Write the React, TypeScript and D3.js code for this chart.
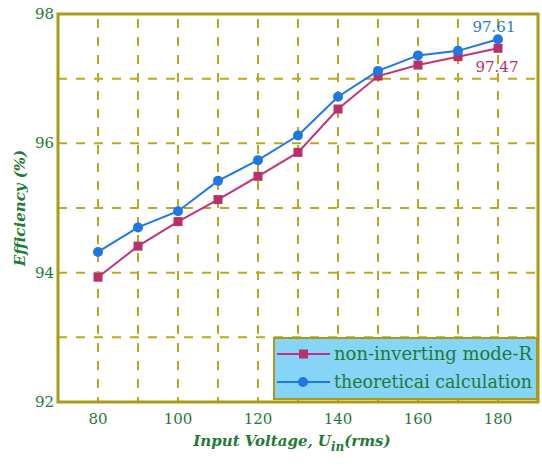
import React, { useEffect, useRef } from 'react';
import * as d3 from 'd3';

const voltages = [80, 90, 100, 110, 120, 130, 140, 150, 160, 170, 180];
const measured = [93.93, 94.41, 94.79, 95.13, 95.49, 95.86, 96.53, 97.04, 97.21, 97.34, 97.47];
const theoretical = [94.32, 94.70, 94.95, 95.42, 95.74, 96.12, 96.72, 97.12, 97.36, 97.43, 97.61];
const xTicks = [80, 100, 120, 140, 160, 180];
const yTicks = [92, 94, 96, 98];
const yGrid = [93, 94, 95, 96, 97];
const seriesNames = ['non-inverting mode-R', 'theoreticai calculation'];

const W = 542;
const H = 468;
const frameColor = '#a99b14';
const gridColor = '#b8aa1c';
const textGreen = '#1f7a34';
const pink = '#c0357a';
const blue = '#1f78e2';
const serif = 'DejaVu Serif';

export default function App() {
  const svgRef = useRef<SVGSVGElement>(null);

  useEffect(() => {
    if (!svgRef.current) return;
    d3.select(svgRef.current).selectAll('*').remove();

    const margin = { left: 58, right: 4, top: 14, bottom: 66 };
    const svg = d3.select(svgRef.current).attr('width', W).attr('height', H);

    const x = d3.scaleLinear().domain([70, 190]).range([margin.left, W - margin.right]);
    const y = d3.scaleLinear().domain([92, 98]).range([H - margin.bottom, margin.top]);

    // grid
    svg.append('g')
      .selectAll('line')
      .data(voltages)
      .enter()
      .append('line')
      .attr('x1', d => x(d))
      .attr('x2', d => x(d))
      .attr('y1', y(98))
      .attr('y2', y(92))
      .attr('stroke', gridColor)
      .attr('stroke-width', 2)
      .attr('stroke-dasharray', '9,9')
      .attr('stroke-dashoffset', -5);

    svg.append('g')
      .selectAll('line')
      .data(yGrid)
      .enter()
      .append('line')
      .attr('x1', x(70))
      .attr('x2', x(190))
      .attr('y1', d => y(d))
      .attr('y2', d => y(d))
      .attr('stroke', gridColor)
      .attr('stroke-width', 2)
      .attr('stroke-dasharray', '9,9');

    // frame
    svg.append('rect')
      .attr('x', x(70))
      .attr('y', y(98))
      .attr('width', x(190) - x(70))
      .attr('height', y(92) - y(98))
      .attr('fill', 'none')
      .attr('stroke', frameColor)
      .attr('stroke-width', 3);

    // tick labels
    svg.append('g')
      .selectAll('text')
      .data(xTicks)
      .enter()
      .append('text')
      .attr('x', d => x(d))
      .attr('y', y(92) + 22)
      .attr('text-anchor', 'middle')
      .attr('font-family', serif)
      .attr('font-size', 15)
      .attr('fill', textGreen)
      .text(d => d);

    svg.append('g')
      .selectAll('text')
      .data(yTicks)
      .enter()
      .append('text')
      .attr('x', x(70) - 4)
      .attr('y', d => y(d) + 5)
      .attr('text-anchor', 'end')
      .attr('font-family', serif)
      .attr('font-size', 15)
      .attr('fill', textGreen)
      .text(d => d);

    // axis titles
    svg.append('text')
      .attr('transform', `translate(25,${y(95)}) rotate(-90)`)
      .attr('text-anchor', 'middle')
      .attr('font-family', serif)
      .attr('font-size', 15)
      .attr('font-weight', 'bold')
      .attr('font-style', 'italic')
      .attr('fill', textGreen)
      .text('Efficiency (%)');

    const xt = svg.append('text')
      .attr('x', 292)
      .attr('y', 446)
      .attr('text-anchor', 'middle')
      .attr('font-family', serif)
      .attr('font-size', 15)
      .attr('font-weight', 'bold')
      .attr('font-style', 'italic')
      .attr('fill', textGreen);
    xt.append('tspan').text('Input Voltage, U');
    xt.append('tspan').attr('font-size', 12).attr('dy', 5).text('in');
    xt.append('tspan').attr('dy', -5).text('(rms)');

    // lines
    const line = d3.line<number>()
      .x((d, i) => x(voltages[i]))
      .y(d => y(d));

    svg.append('path')
      .datum(measured)
      .attr('fill', 'none')
      .attr('stroke', pink)
      .attr('stroke-width', 2)
      .attr('d', line);

    svg.append('path')
      .datum(theoretical)
      .attr('fill', 'none')
      .attr('stroke', blue)
      .attr('stroke-width', 2)
      .attr('d', line);

    svg.append('g')
      .selectAll('rect')
      .data(measured)
      .enter()
      .append('rect')
      .attr('x', (d, i) => x(voltages[i]) - 4.5)
      .attr('y', d => y(d) - 4.5)
      .attr('width', 9)
      .attr('height', 9)
      .attr('fill', '#b8306c');

    svg.append('g')
      .selectAll('circle')
      .data(theoretical)
      .enter()
      .append('circle')
      .attr('cx', (d, i) => x(voltages[i]))
      .attr('cy', d => y(d))
      .attr('r', 5)
      .attr('fill', blue);

    // end annotations
    const last = voltages.length - 1;
    svg.append('text')
      .attr('x', x(voltages[last]) - 4)
      .attr('y', y(theoretical[last]) - 7)
      .attr('text-anchor', 'middle')
      .attr('font-family', serif)
      .attr('font-size', 15)
      .attr('fill', '#2b7bbf')
      .text(theoretical[last].toFixed(2));

    svg.append('text')
      .attr('x', x(voltages[last]) - 1)
      .attr('y', y(measured[last]) + 24)
      .attr('text-anchor', 'middle')
      .attr('font-family', serif)
      .attr('font-size', 15)
      .attr('fill', '#b8306c')
      .text(measured[last].toFixed(2));

    // legend
    const lg = svg.append('g').attr('transform', 'translate(274,338)');
    lg.append('rect')
      .attr('width', 263)
      .attr('height', 61)
      .attr('fill', '#86d4f7')
      .attr('stroke', frameColor)
      .attr('stroke-width', 2);

    const colors = [pink, blue];
    seriesNames.forEach((name, i) => {
      const cy = 16 + i * 28;
      lg.append('line')
        .attr('x1', 3)
        .attr('x2', 56)
        .attr('y1', cy)
        .attr('y2', cy)
        .attr('stroke', colors[i])
        .attr('stroke-width', 2);
      if (i === 0) {
        lg.append('rect')
          .attr('x', 25)
          .attr('y', cy - 4.5)
          .attr('width', 9)
          .attr('height', 9)
          .attr('fill', '#b8306c');
      } else {
        lg.append('circle').attr('cx', 29).attr('cy', cy).attr('r', 5).attr('fill', blue);
      }
      lg.append('text')
        .attr('x', 60)
        .attr('y', cy + 6)
        .attr('font-family', serif)
        .attr('font-size', 18)
        .attr('textLength', i === 0 ? 198 : 198)
        .attr('lengthAdjust', 'spacingAndGlyphs')
        .attr('fill', textGreen)
        .text(name);
    });
  }, []);

  return <svg ref={svgRef} style={{ position: 'absolute', left: 0, top: 0, display: 'block' }} />;
}
